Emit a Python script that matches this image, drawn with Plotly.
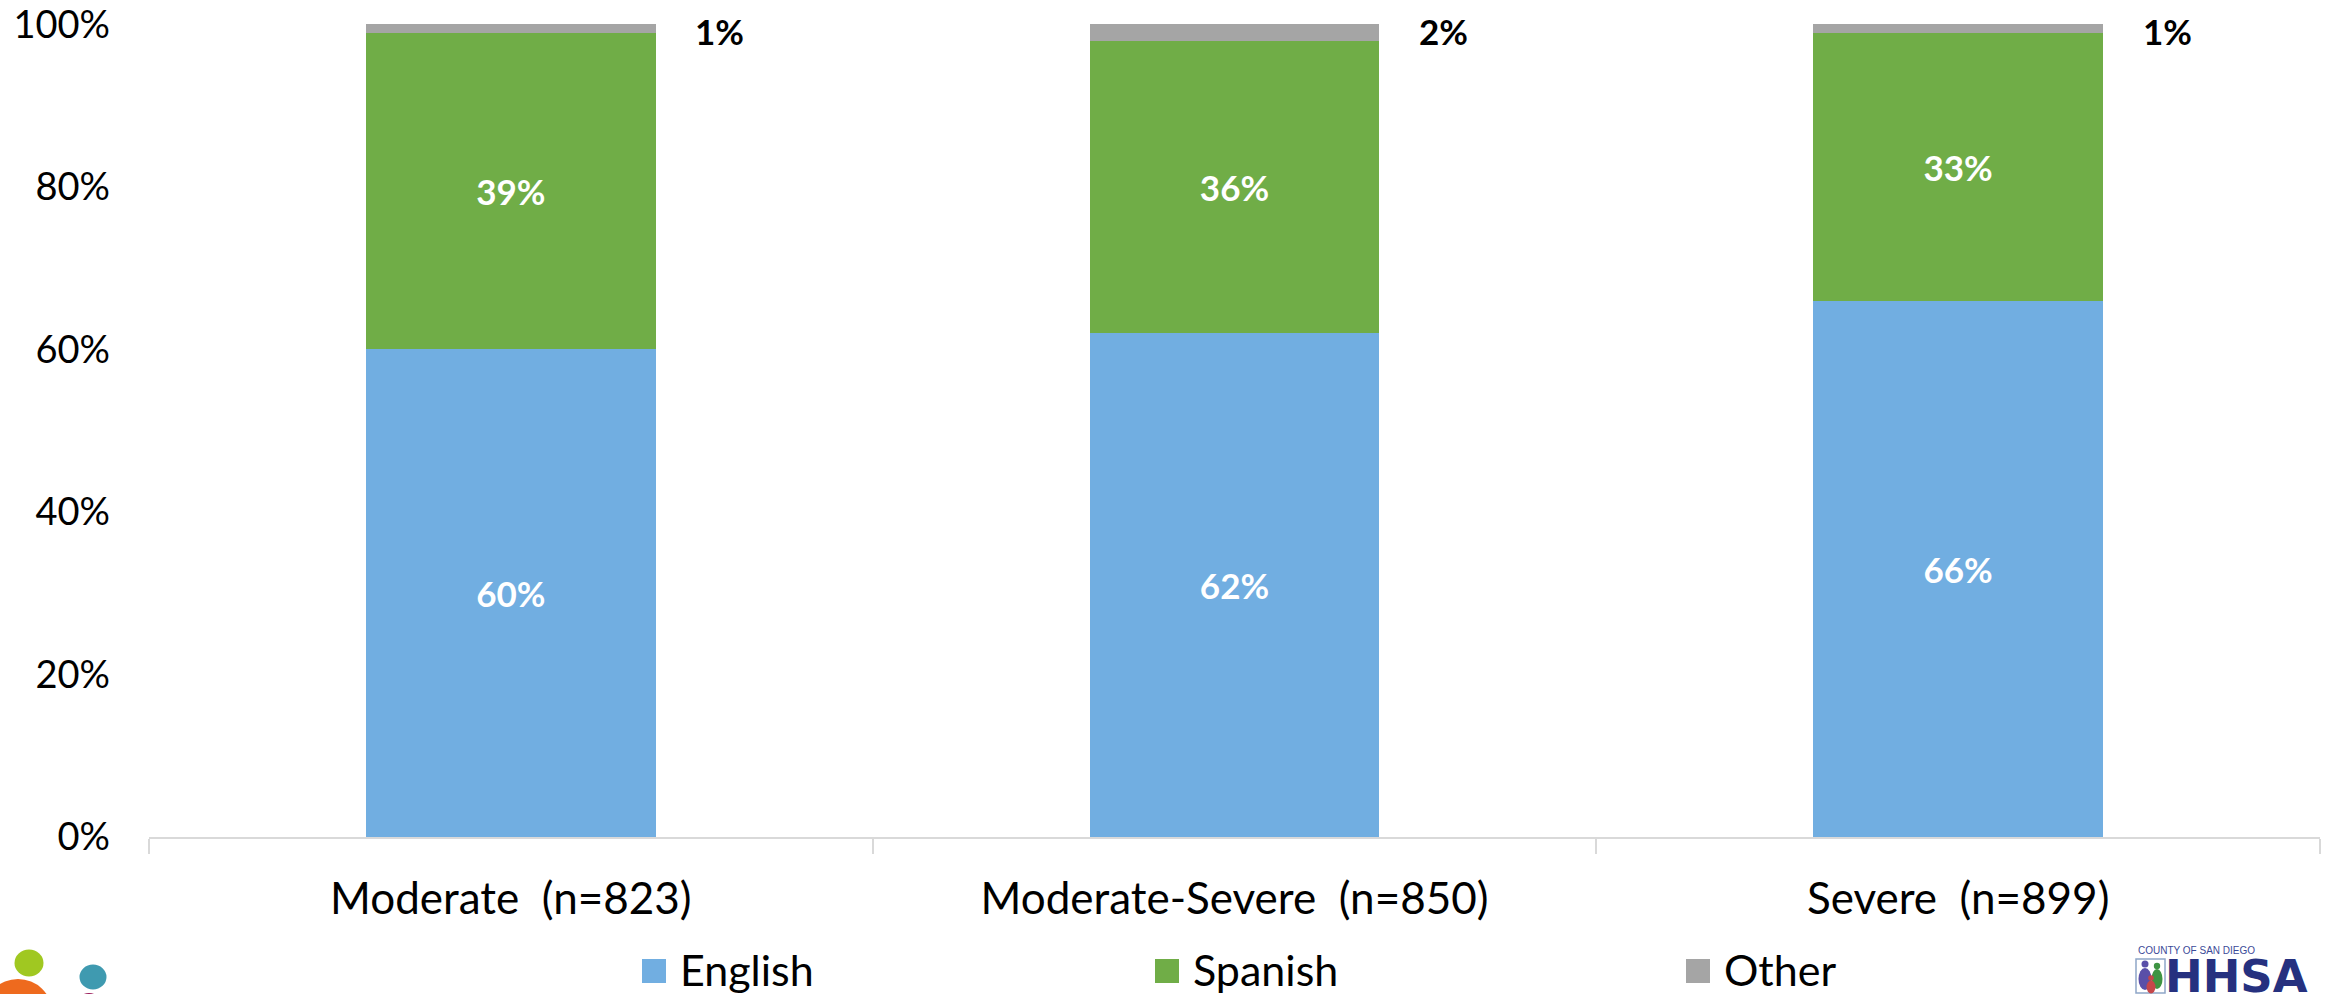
import plotly.graph_objects as go

# Language of respondents by severity group (percent of each group)
categories = ["Moderate  (n=823)", "Moderate-Severe  (n=850)", "Severe  (n=899)"]
english = [60, 62, 66]
spanish = [39, 36, 33]
other = [1, 2, 1]

series_names = ["English", "Spanish", "Other"]
series_colors = ["#71AEE1", "#70AD47", "#A5A5A5"]

y_tick_values = [0, 20, 40, 60, 80, 100]
y_tick_labels = ["0%", "20%", "40%", "60%", "80%", "100%"]

W, H = 2325, 994
ML, MR, MT, MB = 149, 5, 24, 157
PW, PH = W - ML - MR, H - MT - MB

FONT = "Lato, 'Open Sans', sans-serif"


def px_x(x):
    return (x - ML) / PW


def px_y(y):
    return (H - MB - y) / PH


fig = go.Figure()

for name, vals, color in zip(series_names, [english, spanish, other], series_colors):
    inside = name != "Other"
    fig.add_trace(go.Bar(
        x=categories,
        y=vals,
        name=name,
        marker=dict(color=color, line=dict(width=0)),
        text=[f"{v}%" for v in vals] if inside else None,
        textposition="inside" if inside else "none",
        insidetextanchor="middle",
        textangle=0,
        textfont=dict(family=FONT, size=35, color="white", weight="bold"),
        hoverinfo="skip",
        showlegend=False,
    ))

# value labels for the thin "Other" segment, placed beside the bar top
annotations = []
for i, v in enumerate(other):
    annotations.append(dict(
        x=i, y=100, xref="x", yref="y",
        text=f"<b>{v}%</b>", showarrow=False,
        xshift=209, yshift=-7,
        font=dict(family=FONT, size=35, color="black"),
    ))

# legend row along the bottom
shapes = []
legend_swatch_x = [642, 1155, 1686]
for name, color, sx in zip(series_names, series_colors, legend_swatch_x):
    shapes.append(dict(
        type="rect", xref="paper", yref="paper",
        x0=px_x(sx), x1=px_x(sx + 24), y0=px_y(983), y1=px_y(959),
        fillcolor=color, line=dict(width=0),
    ))
    annotations.append(dict(
        x=px_x(sx + 36), y=px_y(969), xref="paper", yref="paper",
        xanchor="left", yanchor="middle", text=name, showarrow=False,
        font=dict(family=FONT, size=43, color="black"),
    ))

# corner logo (left): coloured circles
for cx, cy, rx, ry, col in [
    (29, 963, 14.5, 13.5, "#A0C821"),
    (93, 977, 13.5, 12.5, "#3F9AB0"),
    (18, 1012, 34, 33, "#EE6A1E"),
    (89, 1006, 13, 13, "#9B1D5A"),
]:
    shapes.append(dict(
        type="circle", xref="paper", yref="paper",
        x0=px_x(cx - rx), x1=px_x(cx + rx), y0=px_y(cy + ry), y1=px_y(cy - ry),
        fillcolor=col, line=dict(width=0), layer="above",
    ))

# corner logo (right): County of San Diego HHSA
shapes.append(dict(
    type="rect", xref="paper", yref="paper",
    x0=px_x(2136), x1=px_x(2165), y0=px_y(993), y1=px_y(959),
    fillcolor="white", line=dict(color="#8FA6C8", width=1.5),
))
for cx, cy, rx, ry, col in [
    (2145, 964, 3.5, 3.5, "#5A4FA8"),
    (2145, 979, 6.5, 11, "#5A4FA8"),
    (2157, 966, 3.2, 3.2, "#3E9442"),
    (2157, 979, 5.5, 10, "#3E9442"),
    (2151, 978, 2.8, 2.8, "#C5474A"),
    (2151, 987, 4.5, 6.5, "#C5474A"),
]:
    shapes.append(dict(
        type="circle", xref="paper", yref="paper",
        x0=px_x(cx - rx), x1=px_x(cx + rx), y0=px_y(cy + ry), y1=px_y(cy - ry),
        fillcolor=col, line=dict(width=0),
    ))
annotations.append(dict(
    x=px_x(2136), y=px_y(951), xref="paper", yref="paper",
    xanchor="left", yanchor="middle", text="COUNTY OF SAN DIEGO", showarrow=False,
    font=dict(family="Liberation Sans, Arial, sans-serif", size=10, color="#3B4A98"),
))
annotations.append(dict(
    x=px_x(2163), y=px_y(977), xref="paper", yref="paper",
    xanchor="left", yanchor="middle", text="<b>HHSA</b>", showarrow=False,
    font=dict(family="DejaVu Sans, sans-serif", size=45, color="#26317F"),
))

fig.update_layout(
    barmode="stack",
    bargap=0.6,
    width=W, height=H,
    margin=dict(l=ML, r=MR, t=MT, b=MB, pad=0, autoexpand=False),
    paper_bgcolor="white",
    plot_bgcolor="white",
    showlegend=False,
    shapes=shapes,
    annotations=annotations,
    font=dict(family=FONT, color="black"),
)

fig.update_xaxes(
    type="category",
    automargin=False,
    showline=True, linecolor="#D9D9D9", linewidth=2,
    ticks="outside", tickson="boundaries", ticklen=15, tickcolor="#D9D9D9", tickwidth=2,
    tickfont=dict(family=FONT, size=44, color="black"),
    ticklabelstandoff=22,
    showgrid=False, zeroline=False,
)
fig.update_yaxes(
    range=[0, 100.05],
    automargin=False,
    tickmode="array",
    tickvals=y_tick_values,
    ticktext=y_tick_labels,
    tickfont=dict(family=FONT, size=38, color="black"),
    ticklabelstandoff=38,
    ticklabeloverflow="allow",
    showgrid=False, zeroline=False, showline=False,
)

fig.write_html("out.html")
